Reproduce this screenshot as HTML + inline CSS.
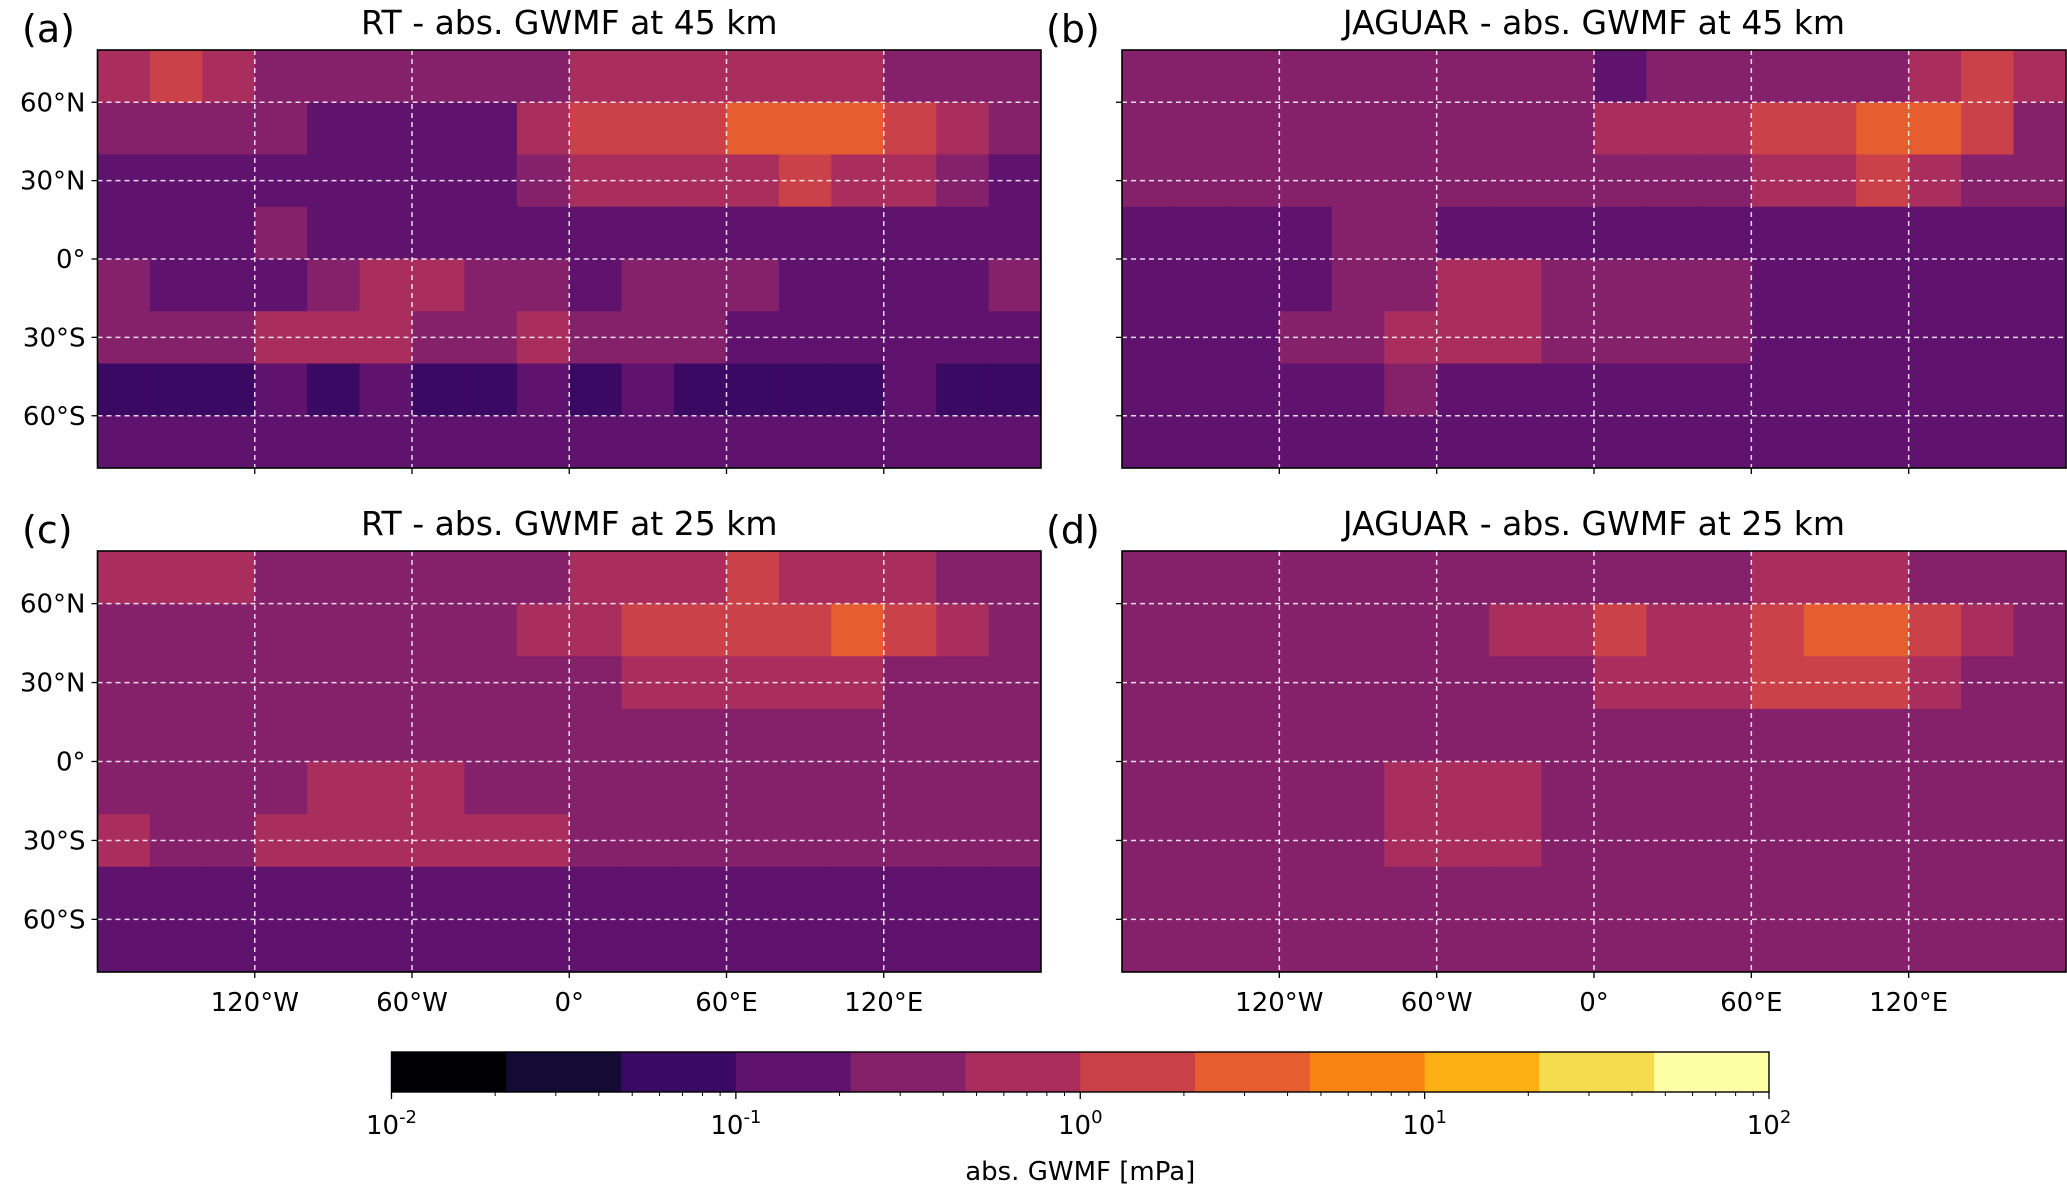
<!DOCTYPE html>
<html><head><meta charset="utf-8"><style>
html,body{margin:0;padding:0;background:#fff;}
svg{display:block;font-family:"DejaVu Sans","Liberation Sans",sans-serif;}
</style></head><body>
<svg id="fig" width="2067" height="1191" viewBox="0 0 2067 1191" xmlns="http://www.w3.org/2000/svg"></svg>
<script>
// Discrete inferno colour bins (12 bins from 1e-2 to 1e2)
const binColors = ["#000004","#140b35","#3a0963","#5f136e","#85216b","#a92e5e","#cb4149","#e65d2f","#f78311","#fcb014","#f4dc4e","#fcffa4"];
const latTicks = [60,30,0,-30,-60];
const latTickLabels = ["60°N","30°N","0°","30°S","60°S"];
const lonTicks = [-120,-60,0,60,120];
const lonTickLabels = ["120°W","60°W","0°","60°E","120°E"];
const cbTickExps = [-2,-1,0,1,2];
// Coarse grids (rows 80N→80S in 20° bands; cols 180W→180E in 20° bins), values = colour bin index
const panelA = [
[5,6,5,4,4,4,4,4,4,5,5,5,5,5,5,4,4,4],
[4,4,4,4,3,3,3,3,5,6,6,6,7,7,7,6,5,4],
[3,3,3,3,3,3,3,3,4,5,5,5,5,6,5,5,4,3],
[3,3,3,4,3,3,3,3,3,3,3,3,3,3,3,3,3,3],
[4,3,3,3,4,5,5,4,4,3,4,4,4,3,3,3,3,4],
[4,4,4,5,5,5,4,4,5,4,4,4,3,3,3,3,3,3],
[2,2,2,3,2,3,2,2,3,2,3,2,2,2,2,3,2,2],
[3,3,3,3,3,3,3,3,3,3,3,3,3,3,3,3,3,3]];
const panelB = [
[4,4,4,4,4,4,4,4,4,3,4,4,4,4,4,5,6,5],
[4,4,4,4,4,4,4,4,4,5,5,5,6,6,7,7,6,4],
[4,4,4,4,4,4,4,4,4,4,4,4,5,5,6,5,4,4],
[3,3,3,3,4,4,3,3,3,3,3,3,3,3,3,3,3,3],
[3,3,3,3,4,4,5,5,4,4,4,4,3,3,3,3,3,3],
[3,3,3,4,4,5,5,5,4,4,4,4,3,3,3,3,3,3],
[3,3,3,3,3,4,3,3,3,3,3,3,3,3,3,3,3,3],
[3,3,3,3,3,3,3,3,3,3,3,3,3,3,3,3,3,3]];
const panelC = [
[5,5,5,4,4,4,4,4,4,5,5,5,6,5,5,5,4,4],
[4,4,4,4,4,4,4,4,5,5,6,6,6,6,7,6,5,4],
[4,4,4,4,4,4,4,4,4,4,5,5,5,5,5,4,4,4],
[4,4,4,4,4,4,4,4,4,4,4,4,4,4,4,4,4,4],
[4,4,4,4,5,5,5,4,4,4,4,4,4,4,4,4,4,4],
[5,4,4,5,5,5,5,5,5,4,4,4,4,4,4,4,4,4],
[3,3,3,3,3,3,3,3,3,3,3,3,3,3,3,3,3,3],
[3,3,3,3,3,3,3,3,3,3,3,3,3,3,3,3,3,3]];
const panelD = [
[4,4,4,4,4,4,4,4,4,4,4,4,5,5,5,4,4,4],
[4,4,4,4,4,4,4,5,5,6,5,5,6,7,7,6,5,4],
[4,4,4,4,4,4,4,4,4,5,5,5,6,6,6,5,4,4],
[4,4,4,4,4,4,4,4,4,4,4,4,4,4,4,4,4,4],
[4,4,4,4,4,5,5,5,4,4,4,4,4,4,4,4,4,4],
[4,4,4,4,4,5,5,5,4,4,4,4,4,4,4,4,4,4],
[4,4,4,4,4,4,4,4,4,4,4,4,4,4,4,4,4,4],
[4,4,4,4,4,4,4,4,4,4,4,4,4,4,4,4,4,4]];
const panelTitles = ["RT - abs. GWMF at 45 km","JAGUAR - abs. GWMF at 45 km","RT - abs. GWMF at 25 km","JAGUAR - abs. GWMF at 25 km"];
const panelLetters = ["(a)","(b)","(c)","(d)"];

const NS="http://www.w3.org/2000/svg";
const svg=document.getElementById("fig");
function mk(tag,attrs,parent){const e=document.createElementNS(NS,tag);for(const k in attrs)e.setAttribute(k,attrs[k]);(parent||svg).appendChild(e);return e;}

const panels=[
 {grid:panelA,x0:97.5,x1:1041,y0:50,y1:468,ylab:true,xlab:false},
 {grid:panelB,x0:1122,x1:2066,y0:50,y1:468,ylab:false,xlab:false},
 {grid:panelC,x0:97.5,x1:1041,y0:551,y1:972,ylab:true,xlab:true},
 {grid:panelD,x0:1122,x1:2066,y0:551,y1:972,ylab:false,xlab:true}];

panels.forEach((p,pi)=>{
  const g=mk("g",{});
  
  
  const xs=lon=>p.x0+(lon+180)/360*(p.x1-p.x0);
  const ys=lat=>p.y0+(80-lat)/160*(p.y1-p.y0);
  const rows=p.grid.length, cols=p.grid[0].length;
  for(let r=0;r<rows;r++)for(let c=0;c<cols;c++){
    const lonA=-180+c*360/cols, lonB=-180+(c+1)*360/cols;
    const latA=80-r*160/rows, latB=80-(r+1)*160/rows;
    const cell=mk("rect",{x:xs(lonA),y:ys(latA),width:xs(lonB)-xs(lonA)+0.5,height:ys(latB)-ys(latA)+0.5,fill:binColors[p.grid[r][c]]},g);
    
    
  }
  latTicks.forEach((lat,i)=>{
    const l=mk("line",{x1:p.x0,x2:p.x1,y1:ys(lat),y2:ys(lat),stroke:"#fff","stroke-width":1.5,"stroke-dasharray":"5,4",opacity:0.85},g);
    
    
    mk("line",{x1:p.x0-6,x2:p.x0,y1:ys(lat),y2:ys(lat),stroke:"#000","stroke-width":1.3},g);
    if(p.ylab){const t=mk("text",{x:p.x0-12,y:ys(lat)+9,"text-anchor":"end","font-size":26},g);t.textContent=latTickLabels[i];
      
      }
  });
  lonTicks.forEach((lon,i)=>{
    const l=mk("line",{x1:xs(lon),x2:xs(lon),y1:p.y0,y2:p.y1,stroke:"#fff","stroke-width":1.5,"stroke-dasharray":"5,4",opacity:0.85},g);
    
    
    mk("line",{x1:xs(lon),x2:xs(lon),y1:p.y1,y2:p.y1+6,stroke:"#000","stroke-width":1.3},g);
    if(p.xlab){const t=mk("text",{x:xs(lon),y:p.y1+39,"text-anchor":"middle","font-size":26},g);t.textContent=lonTickLabels[i];
      
      }
  });
  mk("rect",{x:p.x0,y:p.y0,width:p.x1-p.x0,height:p.y1-p.y0,fill:"none",stroke:"#000","stroke-width":1.6},g);
  const tt=mk("text",{x:(p.x0+p.x1)/2,y:p.y0-16,"text-anchor":"middle","font-size":33},g);
  tt.textContent=panelTitles[pi];
  
  
  const lt=mk("text",{x:pi%2===0?22:1046,y:p.y0-8,"font-size":38},g);
  lt.textContent=panelLetters[pi];
  
  
});

// Colorbar
const cb={x0:391.5,x1:1769,y0:1052,y1:1092};
const cbg=mk("g",{});


const cbx=e=>cb.x0+(e+2)/4*(cb.x1-cb.x0);
binColors.forEach((col,i)=>{
  const a=-2+i/3, b=-2+(i+1)/3;
  const r=mk("rect",{x:cbx(a),y:cb.y0,width:cbx(b)-cbx(a)+0.5,height:cb.y1-cb.y0,fill:col},cbg);
  
  
});
mk("rect",{x:cb.x0,y:cb.y0,width:cb.x1-cb.x0,height:cb.y1-cb.y0,fill:"none",stroke:"#000","stroke-width":1.4},cbg);
cbTickExps.forEach(e=>{
  mk("line",{x1:cbx(e),x2:cbx(e),y1:cb.y1,y2:cb.y1+7,stroke:"#000","stroke-width":1.3},cbg);
  const t=mk("text",{x:cbx(e),y:cb.y1+42,"text-anchor":"middle","font-size":26},cbg);
  t.textContent="10";
  const s=mk("tspan",{dy:-11,"font-size":18},t);s.textContent=String(e);
  
  
  for(let k=2;k<10;k++){const x=cbx(e+Math.log10(k));if(e<2)mk("line",{x1:x,x2:x,y1:cb.y1,y2:cb.y1+4,stroke:"#000","stroke-width":1},cbg);}
});
const cl=mk("text",{x:(cb.x0+cb.x1)/2,y:1180,"text-anchor":"middle","font-size":26},cbg);
cl.textContent="abs. GWMF [mPa]";


</script>
</body></html>
